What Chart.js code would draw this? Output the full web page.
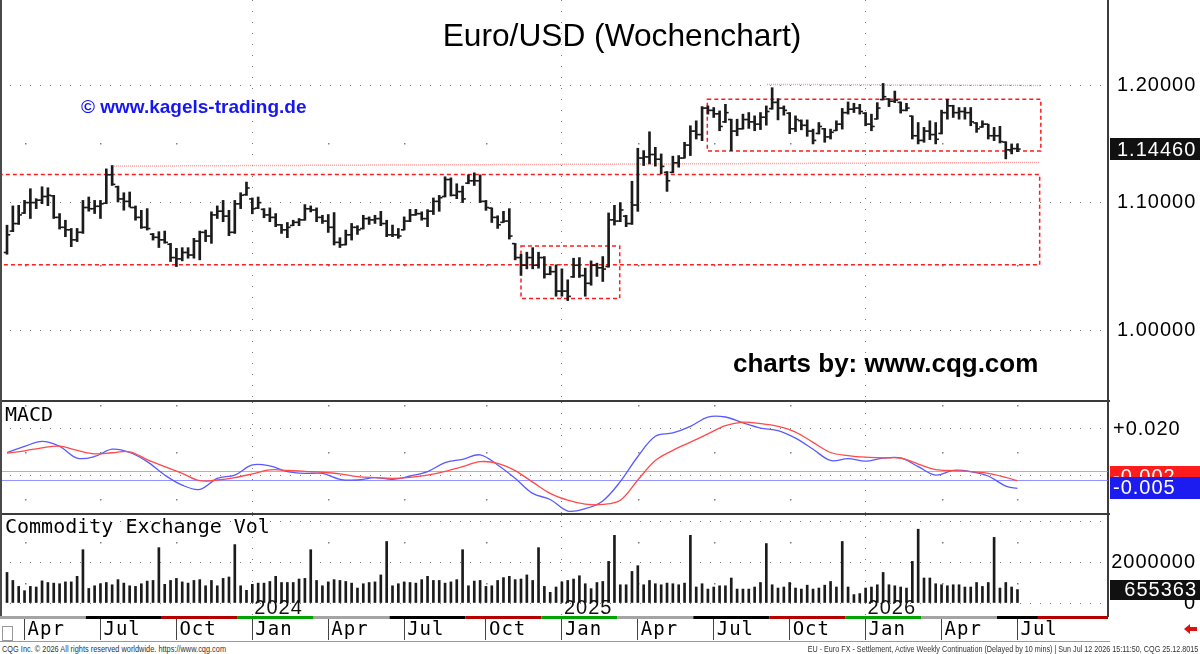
<!DOCTYPE html>
<html lang="de">
<head>
<meta charset="UTF-8">
<title>Euro/USD (Wochenchart)</title>
<script src="https://cdn.jsdelivr.net/npm/chart.js"></script>
<style>
  body { margin: 0; background: #fff; }
  #wrap { position: relative; width: 1200px; height: 654px; overflow: hidden; background: #fff;
          font-family: "Liberation Sans", Arial, sans-serif; }
  canvas { position: absolute; left: 0; }
  .txt { position: absolute; white-space: nowrap; line-height: 1; color: #000; }
  .mono { font-family: "DejaVu Sans Mono", monospace; font-size: 20px; }
  .sep { position: absolute; left: 0; width: 1110px; height: 2px; background: #3a3a3a; }
  .foot { font-size: 9px; color: #333; }
</style>
</head>
<body>
<div id="wrap">
  <canvas id="priceChart" width="1200" height="400" style="top:0;width:1200px;height:400px"></canvas>
  <canvas id="macdChart" width="1200" height="111" style="top:402px;width:1200px;height:111px"></canvas>
  <canvas id="volChart" width="1200" height="128" style="top:515px;width:1200px;height:128px"></canvas>

  <div class="sep" style="top:400px"></div>
  <div class="sep" style="top:513px"></div>
  <div style="position:absolute;left:0;top:0;width:2px;height:616px;background:#4a4a4a"></div>

  <div class="txt" style="left:0;width:1244px;text-align:center;top:20px;font-size:31.7px">Euro/USD (Wochenchart)</div>
  <div class="txt" style="left:81px;top:97px;font-size:19px;font-weight:bold;color:#1616f5">© www.kagels-trading.de</div>
  <div class="txt" style="left:733px;top:350px;font-size:26px;font-weight:bold">charts by: www.cqg.com</div>
  <div class="txt mono" style="left:5px;top:404px">MACD</div>
  <div class="txt mono" style="left:5px;top:516px">Commodity Exchange Vol</div>

  <div style="position:absolute;left:2px;top:626px;width:9px;height:13px;border:1px solid #999"></div>
  <div style="position:absolute;left:1184px;top:624px;width:0;height:0;border-top:5px solid transparent;border-bottom:5px solid transparent;border-right:6px solid #e01010"></div>
  <div style="position:absolute;left:1190px;top:627px;width:7px;height:4px;background:#e01010"></div>

  <div class="txt foot" style="left:2px;top:645px;transform:scaleX(0.82);transform-origin:left top">CQG Inc. © 2026 All rights reserved worldwide. https://www.cqg.com</div>
  <div class="txt foot" style="right:2px;top:645px;transform:scaleX(0.8);transform-origin:right top">EU - Euro FX - Settlement, Active Weekly Continuation (Delayed by 10 mins) | Sun Jul 12 2026 15:11:50, CQG 25.12.8015</div>
</div>

<script>
// ---------- data (weekly bars, first week starts Mon 13 Mar 2023) ----------
const highs = [1.0817,1.0973,1.0978,1.1018,1.1114,1.1032,1.1130,1.1122,1.1059,1.0911,
  1.0857,1.0791,1.0791,1.1018,1.1046,1.1018,1.1018,1.1279,1.1307,1.1136,
  1.1081,1.1087,1.0973,1.0937,1.0951,1.0751,1.0765,1.0770,1.0672,1.0633,
  1.0638,1.0638,1.0712,1.0770,1.0778,1.0925,1.0973,1.1018,1.0937,1.1018,
  1.1081,1.1169,1.1038,1.1046,1.0951,1.0957,1.0911,1.0823,1.0839,1.0857,
  1.0871,1.0984,1.0973,1.0957,1.0897,1.0903,1.0919,1.0717,1.0778,1.0831,
  1.0813,1.0897,1.0884,1.0897,1.0929,1.0857,1.0818,1.0791,1.0884,1.0945,
  1.0945,1.0925,1.0943,1.1038,1.1059,1.1213,1.1204,1.1155,1.1136,1.1229,
  1.1246,1.1229,1.1018,1.0957,1.0893,1.0929,1.0951,1.0672,1.0586,1.0602,
  1.0638,1.0602,1.0568,1.0490,1.0503,1.0472,1.0387,1.0555,1.0560,1.0477,
  1.0534,1.0516,1.0568,1.0916,1.0978,1.1000,1.0897,1.1176,1.1453,1.1433,
  1.1594,1.1461,1.1405,1.1257,1.1386,1.1391,1.1504,1.1646,1.1689,1.1813,
  1.1819,1.1805,1.1775,1.1833,1.1703,1.1703,1.1747,1.1761,1.1732,1.1761,
  1.1819,1.1980,1.1883,1.1819,1.1761,1.1732,1.1697,1.1697,1.1617,1.1674,
  1.1623,1.1617,1.1689,1.1797,1.1854,1.1842,1.1833,1.1761,1.1747,1.1848,
  1.2018,1.1883,1.1950,1.1854,1.1842,1.1732,1.1674,1.1632,1.1689,1.1674,
  1.1782,1.1877,1.1825,1.1805,1.1805,1.1805,1.1674,1.1689,1.1660,1.1632,
  1.1641,1.1509,1.1490,1.1490];
const lows = [1.0586,1.0765,1.0823,1.0911,1.0871,1.0951,1.0991,1.0975,1.0871,1.0786,
  1.0725,1.0646,1.0686,1.0751,1.0930,1.0911,1.0871,1.0991,1.1141,1.1005,
  1.0938,1.0965,1.0857,1.0791,1.0778,1.0698,1.0639,1.0673,1.0529,1.0490,
  1.0534,1.0555,1.0555,1.0542,1.0686,1.0672,1.0871,1.0845,1.0733,1.0751,
  1.0951,1.1059,1.0909,1.0951,1.0877,1.0845,1.0805,1.0751,1.0717,1.0813,
  1.0813,1.0857,1.0924,1.0845,1.0831,1.0759,1.0659,1.0639,1.0659,1.0698,
  1.0743,1.0786,1.0823,1.0831,1.0813,1.0725,1.0725,1.0712,1.0778,1.0845,
  1.0897,1.0857,1.0805,1.0903,1.0929,1.1046,1.1054,1.1032,1.1000,1.1155,
  1.1141,1.1000,1.0937,1.0839,1.0791,1.0839,1.0706,1.0542,1.0421,1.0472,
  1.0472,1.0477,1.0400,1.0426,1.0261,1.0261,1.0228,1.0405,1.0405,1.0261,
  1.0345,1.0413,1.0374,1.0485,1.0818,1.0845,1.0805,1.0823,1.0929,1.1307,
  1.1321,1.1302,1.1237,1.1092,1.1246,1.1293,1.1369,1.1391,1.1532,1.1518,
  1.1747,1.1718,1.1603,1.1674,1.1433,1.1560,1.1617,1.1623,1.1603,1.1613,
  1.1651,1.1790,1.1697,1.1738,1.1578,1.1596,1.1611,1.1555,1.1490,1.1575,
  1.1504,1.1532,1.1603,1.1617,1.1747,1.1761,1.1747,1.1646,1.1603,1.1703,
  1.1871,1.1813,1.1848,1.1756,1.1775,1.1532,1.1490,1.1504,1.1526,1.1490,
  1.1575,1.1703,1.1718,1.1703,1.1703,1.1646,1.1589,1.1632,1.1532,1.1518,
  1.1498,1.1363,1.1405,1.1424];
const opens = [1.0600,1.0770,1.0830,1.0915,1.1000,1.1000,1.1020,1.1050,1.1055,1.0880,
  1.0800,1.0780,1.0700,1.0760,1.0960,1.0950,1.0970,1.0995,1.1230,1.1130,
  1.1030,1.1010,1.0960,1.0880,1.0800,1.0745,1.0720,1.0700,1.0665,1.0560,
  1.0550,1.0600,1.0580,1.0690,1.0760,1.0730,1.0900,1.0930,1.0890,1.0760,
  1.0990,1.1065,1.1030,1.0955,1.0945,1.0900,1.0880,1.0820,1.0780,1.0815,
  1.0840,1.0860,1.0950,1.0940,1.0880,1.0850,1.0800,1.0680,1.0662,1.0740,
  1.0800,1.0790,1.0870,1.0860,1.0870,1.0830,1.0740,1.0740,1.0780,1.0850,
  1.0900,1.0910,1.0870,1.0930,1.1010,1.1050,1.1190,1.1060,1.1090,1.1160,
  1.1180,1.1180,1.1010,1.0955,1.0880,1.0840,1.0850,1.0670,1.0560,1.0500,
  1.0560,1.0500,1.0560,1.0430,1.0450,1.0300,1.0300,1.0410,1.0500,1.0420,
  1.0360,1.0500,1.0480,1.0490,1.0860,1.0850,1.0890,1.0830,1.0980,1.1370,
  1.1380,1.1400,1.1360,1.1250,1.1250,1.1330,1.1370,1.1480,1.1600,1.1570,
  1.1800,1.1780,1.1750,1.1680,1.1700,1.1600,1.1620,1.1700,1.1680,1.1660,
  1.1720,1.1795,1.1850,1.1800,1.1755,1.1620,1.1690,1.1650,1.1600,1.1580,
  1.1620,1.1550,1.1605,1.1660,1.1760,1.1790,1.1800,1.1755,1.1660,1.1705,
  1.1875,1.1880,1.1860,1.1850,1.1780,1.1730,1.1560,1.1520,1.1600,1.1570,
  1.1580,1.1760,1.1820,1.1760,1.1770,1.1760,1.1670,1.1635,1.1660,1.1560,
  1.1560,1.1505,1.1440,1.1450];
const closes = [1.0740,1.0830,1.0900,1.1000,1.1000,1.1020,1.1050,1.1060,1.0880,1.0800,
  1.0780,1.0700,1.0760,1.0960,1.0950,1.0970,1.0990,1.1230,1.1150,1.1030,
  1.1010,1.0960,1.0880,1.0800,1.0790,1.0720,1.0700,1.0680,1.0560,1.0550,
  1.0600,1.0580,1.0690,1.0760,1.0730,1.0900,1.0930,1.0890,1.0760,1.0990,
  1.1060,1.1120,1.0950,1.1000,1.0900,1.0880,1.0820,1.0780,1.0800,1.0840,
  1.0860,1.0950,1.0940,1.0880,1.0850,1.0800,1.0680,1.0660,1.0740,1.0800,
  1.0780,1.0870,1.0860,1.0870,1.0830,1.0740,1.0740,1.0730,1.0850,1.0900,
  1.0910,1.0870,1.0930,1.1010,1.1040,1.1190,1.1060,1.1090,1.1030,1.1180,
  1.1180,1.1010,1.0960,1.0880,1.0820,1.0850,1.0730,1.0560,1.0500,1.0560,
  1.0500,1.0560,1.0430,1.0450,1.0300,1.0300,1.0260,1.0500,1.0420,1.0360,
  1.0500,1.0480,1.0470,1.0860,1.0850,1.0940,1.0830,1.0980,1.1370,1.1380,
  1.1400,1.1360,1.1300,1.1180,1.1330,1.1370,1.1480,1.1600,1.1570,1.1800,
  1.1780,1.1750,1.1640,1.1760,1.1600,1.1620,1.1700,1.1680,1.1660,1.1720,
  1.1770,1.1850,1.1800,1.1780,1.1620,1.1700,1.1650,1.1600,1.1520,1.1640,
  1.1550,1.1590,1.1660,1.1760,1.1790,1.1800,1.1770,1.1660,1.1640,1.1800,
  1.1900,1.1860,1.1870,1.1780,1.1800,1.1560,1.1520,1.1600,1.1570,1.1530,
  1.1760,1.1820,1.1760,1.1770,1.1760,1.1680,1.1620,1.1660,1.1560,1.1560,
  1.1510,1.1440,1.1450,1.1446];
const volumes = [1490000,1100000,810000,600000,810000,780000,1080000,1000000,970000,940000,
  1030000,1030000,1300000,2600000,710000,840000,940000,1000000,890000,1140000,
  970000,840000,810000,940000,1070000,1100000,2700000,910000,1100000,1200000,
  1030000,970000,1100000,1140000,840000,1100000,840000,1200000,1270000,2850000,
  840000,620000,910000,970000,970000,1050000,1300000,1000000,1000000,1000000,
  1170000,1200000,2600000,1100000,840000,1030000,1140000,1100000,1050000,970000,
  730000,940000,1000000,1030000,1370000,3000000,840000,940000,1030000,1000000,
  970000,1140000,1300000,1100000,1100000,970000,1030000,1140000,2600000,840000,
  1070000,1100000,810000,840000,1100000,1240000,1300000,1140000,1170000,1370000,
  1100000,2700000,810000,520000,780000,1030000,1100000,1170000,1330000,940000,
  700000,1000000,1050000,2030000,3300000,890000,890000,1540000,1820000,890000,
  1100000,940000,890000,970000,940000,890000,970000,3300000,780000,940000,
  680000,780000,840000,840000,1220000,680000,680000,680000,780000,1000000,
  2900000,890000,730000,780000,1000000,730000,680000,870000,680000,730000,
  870000,1050000,780000,3000000,780000,410000,460000,730000,780000,890000,
  1490000,890000,840000,780000,730000,2030000,3600000,1220000,1220000,940000,
  890000,840000,890000,890000,780000,780000,1000000,810000,1000000,3200000,
  730000,1000000,780000,655363];

// MACD read every third week
const macdIdx = [0,3,6,9,12,15,18,21,24,27,30,33,36,39,42,45,48,51,54,57,
  60,63,66,69,72,75,78,81,84,87,90,93,96,99,102,105,108,111,114,117,
  120,123,126,129,132,135,138,141,144,147,150,153,156,159,162,165,168,171,173];
const macdLine = [0.0100,0.0126,0.0147,0.0126,0.0076,0.0083,0.0114,0.0100,0.0061,0.0004,
  -0.0039,-0.0057,-0.0010,0.0004,0.0047,0.0043,0.0019,0.0011,0.0011,-0.0014,
  -0.0017,-0.0007,-0.0014,0.0000,0.0019,0.0057,0.0071,0.0090,0.0047,-0.0010,
  -0.0074,-0.0100,-0.0149,-0.0139,-0.0106,-0.0024,0.0083,0.0169,0.0183,0.0211,
  0.0251,0.0251,0.0226,0.0204,0.0193,0.0161,0.0114,0.0066,0.0074,0.0063,
  0.0076,0.0077,0.0040,0.0004,0.0024,0.0019,0.0000,-0.0043,-0.0053];
const signalLine = [0.0097,0.0107,0.0120,0.0127,0.0109,0.0094,0.0099,0.0103,0.0070,0.0040,
  0.0011,-0.0020,-0.0017,-0.0007,0.0009,0.0026,0.0024,0.0020,0.0016,0.0009,
  -0.0003,-0.0007,-0.0010,-0.0006,0.0004,0.0020,0.0040,0.0061,0.0054,0.0023,
  -0.0026,-0.0074,-0.0103,-0.0120,-0.0121,-0.0103,-0.0017,0.0066,0.0109,0.0144,
  0.0179,0.0214,0.0229,0.0223,0.0211,0.0187,0.0143,0.0100,0.0087,0.0080,
  0.0077,0.0076,0.0051,0.0027,0.0023,0.0019,0.0011,-0.0006,-0.0020];
const macdRefLines = [0.0021, -0.0017];

const priceTicks = [1.0, 1.1, 1.2];
const macdTicks = [0, 0.02];
const volTicks = [0, 2000000, 4000000];
const lastPrice = 1.14460, lastMacd = -0.005, lastSignal = -0.002, lastVolume = 655363;

// contract roll weeks (bottom colour band)
const rollWeeks = [13,26,39,52,65,78,91,104,117,130,143,156,169,176];
const contractColors = ['#a4a4a4', '#000000', '#b40000', '#00a400'];

// drawn zones / trend lines, in week index and price
const zones = [
  { from: -5, to: 176.8, lo: 1.0503, hi: 1.1232 },
  { from: 88.0, to: 104.9, lo: 1.0243, hi: 1.0651 },
  { from: 119.9, to: 177.0, lo: 1.1430, hi: 1.1877 }
];
const trendLines = [
  { x0: 18.0, y0: 1.1302, x1: 176.8, y1: 1.1333 },
  { x0: 130.1, y0: 1.2009, x1: 177.0, y1: 1.2000 }
];

// ---------- weeks and month ticks ----------
const firstWeek = Date.UTC(2023, 2, 13);
const weeks = highs.map((h, i) => new Date(firstWeek + i * 7 * 86400000));
const monthNames = ['Jan', 'Feb', 'Mar', 'Apr', 'May', 'Jun', 'Jul', 'Aug', 'Sep', 'Oct', 'Nov', 'Dec'];
const monthTicks = [];
weeks.forEach((d, i) => {
  if (i > 0 && d.getUTCMonth() !== weeks[i - 1].getUTCMonth() && d.getUTCMonth() % 3 === 0) monthTicks.push(i);
});
const janTicks = monthTicks.filter(i => weeks[i].getUTCMonth() === 0);

const xMin = -1.2, xMax = 188.5;
const GRID = '#7c7c7c';
const INK = '#1b1b1b';

Chart.defaults.font.family = 'Liberation Sans';

function janColor(c) {
  return c.tick && janTicks.includes(c.tick.value) ? GRID : 'rgba(0,0,0,0)';
}

function hiddenX() {
  return {
    type: 'linear', min: xMin, max: xMax, offset: false,
    afterBuildTicks: s => { s.ticks = monthTicks.map(v => ({ value: v })); },
    afterFit: s => { s.height = 0; s.paddingLeft = 0; s.paddingRight = 0; },
    ticks: { display: false },
    grid: { offset: false, drawTicks: false, color: janColor },
    border: { display: false, dash: [1, 10] }
  };
}

function rightY(opts) {
  return Object.assign({
    position: 'right',
    afterFit: s => { s.width = 88; s.paddingTop = 0; s.paddingBottom = 0; },
    grid: { color: GRID, drawTicks: false },
    border: { display: true, color: '#3c3c3c', width: 2, dash: [1, 9] }
  }, opts);
}

const spacedTicks = {
  id: 'spacedTicks',
  beforeDraw(c) { c.ctx.letterSpacing = '1px'; },
  afterDraw(c) { c.ctx.letterSpacing = '0px'; }
};

function minorDots(chart, levels) {
  const { ctx, scales: { x, y } } = chart;
  ctx.save();
  ctx.fillStyle = '#808080';
  monthTicks.forEach(m => {
    if (janTicks.includes(m)) return;
    const px = Math.round(x.getPixelForValue(m));
    levels.forEach(v => {
      const py = Math.round(y.getPixelForValue(v));
      ctx.fillRect(px, py, 1.5, 1.5);
    });
  });
  ctx.restore();
}

function tag(ctx, text, yMid, h, bg, align, tx) {
  ctx.save();
  ctx.fillStyle = bg;
  ctx.fillRect(1110, Math.round(yMid - h / 2), 90, h);
  ctx.fillStyle = '#fff';
  ctx.font = '20px "Liberation Sans"';
  ctx.letterSpacing = '1px';
  ctx.textBaseline = 'middle';
  ctx.textAlign = align;
  ctx.fillText(text, tx, yMid + 1);
  ctx.restore();
}

const baseOpts = {
  responsive: false, animation: false, devicePixelRatio: 1, events: [],
  layout: { autoPadding: false, padding: { left: 0, right: 4, top: 0, bottom: 0 } },
  plugins: { legend: { display: false }, tooltip: { enabled: false } }
};

// ---------- price panel ----------
const priceExtras = {
  id: 'priceExtras',
  beforeDatasetsDraw(chart) {
    const { ctx, scales: { x, y } } = chart;
    minorDots(chart, [1.05, 1.15]);
    ctx.save();
    ctx.lineWidth = 1.5;
    ctx.strokeStyle = '#ff1c1c';
    ctx.setLineDash([4, 3]);
    zones.forEach(z => {
      const x0 = x.getPixelForValue(z.from), x1 = x.getPixelForValue(z.to);
      const y0 = y.getPixelForValue(z.hi), y1 = y.getPixelForValue(z.lo);
      ctx.strokeRect(x0, y0, x1 - x0, y1 - y0);
    });
    ctx.strokeStyle = 'rgba(255,110,110,0.7)';
    ctx.setLineDash([1, 1]);
    trendLines.forEach(t => {
      ctx.beginPath();
      ctx.moveTo(x.getPixelForValue(t.x0), y.getPixelForValue(t.y0));
      ctx.lineTo(x.getPixelForValue(t.x1), y.getPixelForValue(t.y1));
      ctx.stroke();
    });
    ctx.restore();
  },
  afterDraw(chart) {
    const y = chart.scales.y;
    tag(chart.ctx, lastPrice.toFixed(5), y.getPixelForValue(lastPrice), 22, '#111', 'left', 1117);
  }
};

new Chart(document.getElementById('priceChart'), {
  type: 'bar',
  data: {
    datasets: [
      { type: 'bar', data: highs.map((h, i) => ({ x: i, y: [lows[i], h] })),
        backgroundColor: INK, barThickness: 2, grouped: false },
      { type: 'scatter', data: opens.map((o, i) => ({ x: i - 0.28, y: o })),
        pointStyle: 'line', radius: 1.6, borderWidth: 1.6, borderColor: INK },
      { type: 'scatter', data: closes.map((c, i) => ({ x: i + 0.28, y: c })),
        pointStyle: 'line', radius: 1.6, borderWidth: 1.6, borderColor: INK }
    ]
  },
  options: Object.assign({}, baseOpts, {
    scales: {
      x: hiddenX(),
      y: rightY({
        type: 'logarithmic', min: 0.95194, max: 1.27862,
        afterBuildTicks: s => { s.ticks = priceTicks.map(v => ({ value: v })); },
        ticks: { autoSkip: false, padding: 9, crossAlign: 'near', color: '#000',
                 font: { size: 20 }, callback: v => Number(v).toFixed(5) }
      })
    }
  }),
  plugins: [spacedTicks, priceExtras]
});

// ---------- MACD panel ----------
const macdExtras = {
  id: 'macdExtras',
  beforeDatasetsDraw(chart) {
    const { ctx, chartArea, scales: { y } } = chart;
    minorDots(chart, [0.03, 0.01, -0.01]);
    ctx.save();
    ctx.lineWidth = 1;
    ['rgba(255,120,120,0.8)', 'rgba(120,120,255,0.8)'].forEach((col, k) => {
      const py = Math.round(y.getPixelForValue(macdRefLines[k])) + 0.5;
      ctx.strokeStyle = col;
      ctx.beginPath();
      ctx.moveTo(chartArea.left, py);
      ctx.lineTo(chartArea.right, py);
      ctx.stroke();
    });
    ctx.restore();
  },
  afterDraw(chart) {
    const y = chart.scales.y;
    tag(chart.ctx, lastSignal.toFixed(3), y.getPixelForValue(lastSignal) - 4, 22, '#ff1c1c', 'left', 1113);
    tag(chart.ctx, lastMacd.toFixed(3), y.getPixelForValue(lastMacd), 22, '#1c1cf0', 'left', 1113);
  }
};

new Chart(document.getElementById('macdChart'), {
  type: 'line',
  data: {
    datasets: [
      { data: macdIdx.map((i, k) => ({ x: i, y: signalLine[k] })), borderColor: '#ff4a4a',
        borderWidth: 1.3, pointRadius: 0, tension: 0.35, fill: false },
      { data: macdIdx.map((i, k) => ({ x: i, y: macdLine[k] })), borderColor: '#5a5aff',
        borderWidth: 1.3, pointRadius: 0, tension: 0.35, fill: false }
    ]
  },
  options: Object.assign({}, baseOpts, {
    scales: {
      x: hiddenX(),
      y: rightY({
        type: 'linear', min: -0.015745, max: 0.031489,
        afterBuildTicks: s => { s.ticks = macdTicks.map(v => ({ value: v })); },
        ticks: { autoSkip: false, padding: 5, crossAlign: 'near', color: '#000', font: { size: 20 },
                 callback: v => v === 0 ? '0.000' : '+' + v.toFixed(3) }
      })
    }
  }),
  plugins: [spacedTicks, macdExtras]
});

// ---------- volume panel with date axis ----------
const volExtras = {
  id: 'volExtras',
  beforeDatasetsDraw(chart) { minorDots(chart, [1000000, 3000000]); },
  afterDraw(chart) {
    const { ctx, chartArea, scales: { x, y } } = chart;
    ctx.save();
    // contract colour band
    let from = xMin;
    rollWeeks.concat([xMax]).forEach((r, k) => {
      const to = r === xMax ? xMax : r + 0.5;
      ctx.fillStyle = contractColors[k % 4];
      const a = x.getPixelForValue(from), b = x.getPixelForValue(to);
      ctx.fillRect(a, chartArea.bottom, b - a, 3);
      from = to;
    });
    // year labels
    ctx.fillStyle = '#111';
    ctx.font = '20px "Liberation Sans"';
    ctx.letterSpacing = '1px';
    ctx.textBaseline = 'alphabetic';
    janTicks.forEach(i => {
      ctx.fillText(String(weeks[i].getUTCFullYear()), x.getPixelForValue(i) + 2, chartArea.bottom - 2);
    });
    ctx.letterSpacing = '0px';
    ctx.fillStyle = '#9a9a9a';
    ctx.fillRect(0, 126, 1110, 1);
    ctx.restore();
    tag(ctx, String(lastVolume), y.getPixelForValue(lastVolume), 20, '#111', 'right', 1197);
  }
};

new Chart(document.getElementById('volChart'), {
  type: 'bar',
  data: {
    datasets: [
      { data: volumes.map((v, i) => ({ x: i, y: v })), backgroundColor: INK, barThickness: 2 }
    ]
  },
  options: Object.assign({}, baseOpts, {
    scales: {
      x: {
        type: 'linear', min: xMin, max: xMax, offset: false, position: 'bottom',
        afterBuildTicks: s => { s.ticks = monthTicks.map(v => ({ value: v })); },
        afterFit: s => { s.height = 27; s.paddingLeft = 0; s.paddingRight = 0; },
        grid: { offset: false, drawTicks: true, tickLength: 24, tickWidth: 1, tickColor: '#444', color: janColor },
        border: { display: false, dash: [1, 10] },
        ticks: { autoSkip: false, maxRotation: 0, align: 'start', labelOffset: 3, padding: -21, color: '#000',
                 font: { family: 'DejaVu Sans Mono', size: 19 },
                 callback: v => monthNames[weeks[v].getUTCMonth()] }
      },
      y: rightY({
        type: 'linear', min: -634000, max: 4293000,
        afterBuildTicks: s => { s.ticks = volTicks.map(v => ({ value: v })); },
        ticks: { autoSkip: false, padding: 11, crossAlign: 'far', color: '#000', font: { size: 20 },
                 callback: v => v === 4000000 ? '' : String(v) }
      })
    }
  }),
  plugins: [spacedTicks, volExtras]
});
</script>
</body>
</html>
